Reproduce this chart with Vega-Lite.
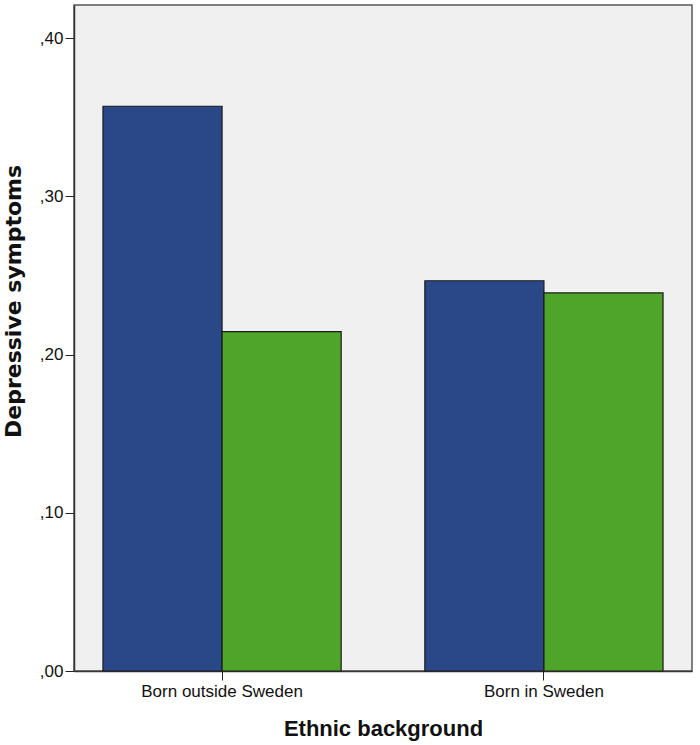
{
  "$schema": "https://vega.github.io/schema/vega-lite/v6.json",
  "autosize": "none",
  "width": 618,
  "height": 666,
  "padding": {"left": 74, "top": 5, "right": 8, "bottom": 74},
  "background": "white",
  "config": {
    "view": {"fill": "#f1f0f0", "stroke": "#5a5555", "strokeWidth": 1.5},
    "font": "Liberation Sans"
  },
  "data": {
    "values": [
      {"background": "Born outside Sweden", "group": "A", "value": 0.357},
      {"background": "Born outside Sweden", "group": "B", "value": 0.2145},
      {"background": "Born in Sweden", "group": "A", "value": 0.2467},
      {"background": "Born in Sweden", "group": "B", "value": 0.239}
    ]
  },
  "mark": {"type": "bar", "stroke": "#1a1a1a", "strokeWidth": 1.2},
  "encoding": {
    "x": {
      "field": "background",
      "type": "nominal",
      "sort": ["Born outside Sweden", "Born in Sweden"],
      "scale": {"paddingInner": 0.26, "paddingOuter": 0.09},
      "axis": {
        "title": "Ethnic background",
        "titleFont": "Liberation Sans",
        "titleFontSize": 22,
        "titleFontWeight": "bold",
        "titleColor": "#111",
        "titlePadding": 19,
        "labelAngle": 0,
        "labelFont": "Liberation Sans",
        "labelFontSize": 17,
        "labelColor": "#111",
        "labelPadding": 3,
        "tickSize": 9,
        "tickColor": "#222",
        "tickBand": "center",
        "domainColor": "#3a3535",
        "domainWidth": 1.5
      }
    },
    "xOffset": {"field": "group", "type": "nominal"},
    "y": {
      "field": "value",
      "type": "quantitative",
      "scale": {"domain": [0, 0.421], "nice": false},
      "axis": {
        "title": "Depressive symptoms",
        "titleFont": "DejaVu Sans",
        "titleFontSize": 22,
        "titleFontWeight": "bold",
        "titleColor": "#111",
        "titleX": -49,
        "titleY": 296,
        "values": [0, 0.1, 0.2, 0.3, 0.4],
        "labelExpr": "replace(format(datum.value, '.2f'), '0.', ',')",
        "labelFont": "Liberation Sans",
        "labelFontSize": 17,
        "labelColor": "#111",
        "labelPadding": 2,
        "tickSize": 9,
        "tickColor": "#222",
        "grid": false,
        "domainColor": "#3a3535",
        "domainWidth": 1.5
      }
    },
    "color": {
      "field": "group",
      "type": "nominal",
      "scale": {"domain": ["A", "B"], "range": ["#2a4888", "#4fa52a"]},
      "legend": null
    }
  }
}
